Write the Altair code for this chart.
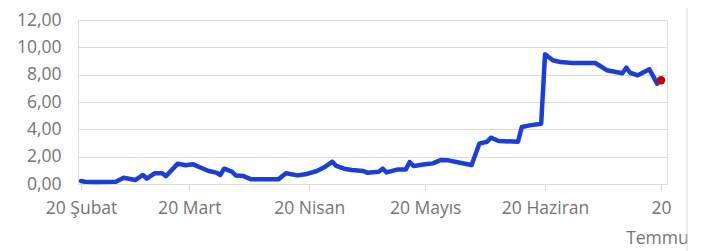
import altair as alt
import pandas as pd

dates = [
    "2019-02-20", "2019-02-21", "2019-02-24", "2019-03-01", "2019-03-03", "2019-03-06",
    "2019-03-08", "2019-03-09", "2019-03-11", "2019-03-13", "2019-03-14", "2019-03-17",
    "2019-03-19", "2019-03-21", "2019-03-23", "2019-03-25", "2019-03-27", "2019-03-28",
    "2019-03-29", "2019-03-31", "2019-04-01", "2019-04-03", "2019-04-05", "2019-04-12",
    "2019-04-14", "2019-04-17", "2019-04-19", "2019-04-22", "2019-04-24", "2019-04-26",
    "2019-04-27", "2019-04-29", "2019-05-01", "2019-05-04", "2019-05-05", "2019-05-08",
    "2019-05-09", "2019-05-10", "2019-05-13", "2019-05-15", "2019-05-16", "2019-05-17",
    "2019-05-20", "2019-05-22", "2019-05-24", "2019-05-26", "2019-05-29", "2019-06-01",
    "2019-06-03", "2019-06-05", "2019-06-06", "2019-06-08", "2019-06-13", "2019-06-14",
    "2019-06-16", "2019-06-19", "2019-06-20", "2019-06-22", "2019-06-24", "2019-06-27",
    "2019-07-03", "2019-07-05", "2019-07-06", "2019-07-10", "2019-07-11", "2019-07-12",
    "2019-07-14", "2019-07-17", "2019-07-19", "2019-07-20",
]
values = [
    0.22, 0.17, 0.15, 0.17, 0.46, 0.29,
    0.66, 0.39, 0.78, 0.78, 0.58, 1.49,
    1.37, 1.44, 1.19, 0.95, 0.83, 0.66,
    1.12, 0.90, 0.63, 0.58, 0.34, 0.34,
    0.78, 0.63, 0.71, 0.95, 1.24, 1.63,
    1.32, 1.12, 1.02, 0.95, 0.83, 0.90,
    1.12, 0.85, 1.07, 1.07, 1.61, 1.32,
    1.44, 1.51, 1.76, 1.73, 1.56, 1.39,
    2.95, 3.09, 3.39, 3.15, 3.09, 4.17,
    4.29, 4.41, 9.49, 9.05, 8.92, 8.85,
    8.85, 8.51, 8.32, 8.10, 8.51, 8.14,
    7.95, 8.39, 7.34, 7.59,
]
month_names = ["Ocak", "Şubat", "Mart", "Nisan", "Mayıs", "Haziran", "Temmuz",
               "Ağustos", "Eylül", "Ekim", "Kasım", "Aralık"]
tick_months = [2, 3, 4, 5, 6, 7]
y_ticks = [0, 2, 4, 6, 8, 10, 12]

df = pd.DataFrame({"date": [d + "T00:00:00" for d in dates], "value": values})
last = df.tail(1)

FONT = "Open Sans"
GRAY = "#757575"

names_js = "[" + ",".join("'" + m + "'" for m in month_names) + "]"
x_label_expr = (
    "month(datum.value) == 6 ? ['20', " + names_js + "[6]] : '20 ' + "
    + names_js + "[month(datum.value)]"
)

x_scale = alt.Scale(
    domain=[
        alt.DateTime(year=2019, month=2, date=19, hours=5),
        alt.DateTime(year=2019, month=7, date=21, hours=13),
    ]
)
y_scale = alt.Scale(domain=[0, 12], nice=False, zero=True)

x_axis = alt.Axis(
    values=[alt.DateTime(year=2019, month=m, date=20) for m in tick_months],
    labelExpr=x_label_expr,
    grid=False,
    domain=False,
    ticks=True,
    tickSize=6,
    tickColor="#d9d9d9",
    labelFont=FONT,
    labelFontSize=17.5,
    labelColor=GRAY,
    labelPadding=9,
    labelFlush=False,
    labelOverlap=False,
    labelLineHeight=30,
    title=None,
)
y_axis = alt.Axis(
    values=y_ticks,
    labelExpr="replace(format(datum.value, '.2f'), '.', ',')",
    grid=True,
    gridColor="#dcdcdc",
    domain=False,
    ticks=False,
    labelFont=FONT,
    labelFontSize=17.5,
    labelColor=GRAY,
    labelPadding=17,
    labelOverlap=False,
    labelFlush=False,
    title=None,
)

line = alt.Chart(df).mark_line(
    color="#1c3ed8", strokeWidth=4.5, strokeJoin="round", strokeCap="round"
).encode(
    x=alt.X("date:T", scale=x_scale, axis=x_axis),
    y=alt.Y("value:Q", scale=y_scale, axis=y_axis),
)

dot = alt.Chart(last).mark_point(
    filled=True, color="#c40000", size=70, opacity=1
).encode(
    x=alt.X("date:T", scale=x_scale, axis=x_axis),
    y=alt.Y("value:Q", scale=y_scale, axis=y_axis),
)

border = alt.Chart(pd.DataFrame({"k": [0]})).mark_rule(
    color="#dadada", strokeWidth=1
).encode(
    x=alt.value(609), y=alt.value(-30), y2=alt.value(300)
)

chart = alt.layer(line, dot, border).properties(
    width=589,
    height=164,
    autosize=alt.AutoSizeParams(type="none"),
    padding={"left": 70, "top": 12, "right": 21, "bottom": 67},
).configure_view(strokeWidth=0).configure(background="white")

chart.save("out.html", embed_options={"renderer": "svg", "actions": False})
